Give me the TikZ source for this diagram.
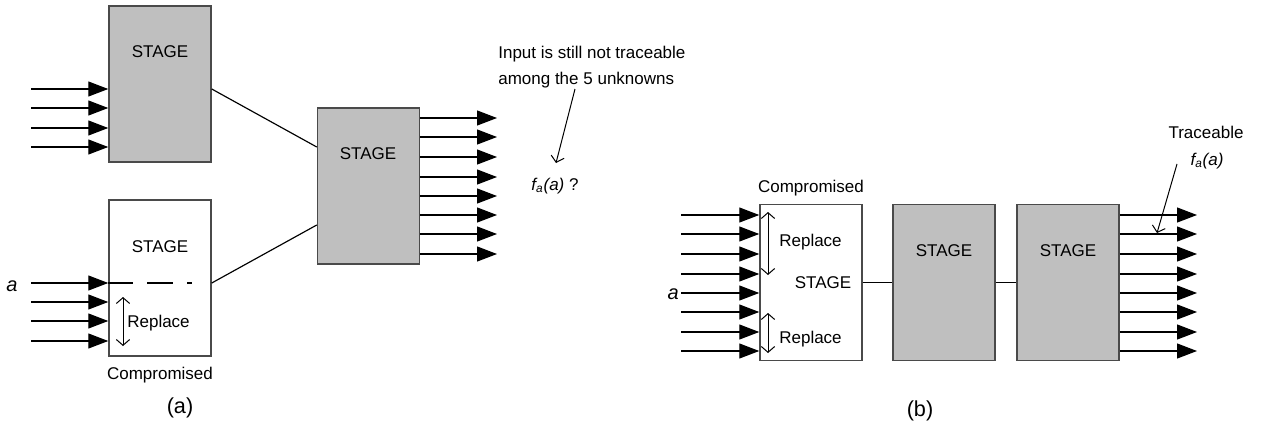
\documentclass[tikz,border=0pt]{standalone}
\usepackage{fontspec}
\setmainfont{Liberation Sans}
\usetikzlibrary{arrows.meta,calc}

\definecolor{boxgray}{HTML}{BFBFBF}
\definecolor{edgegray}{HTML}{4A4A4A}
\tikzset{
  stage/.style={draw=edgegray,line width=0.9pt,minimum width=61.2pt,minimum height=93.6pt,inner sep=0pt},
  shaded/.style={stage,fill=boxgray},
  txt/.style={inner sep=0pt,font=\fontsize{10.2}{16}\selectfont},
  panel/.style={inner sep=0pt,font=\fontsize{13}{15}\selectfont},
  var/.style={inner sep=0pt,font=\fontsize{12}{14}\selectfont\itshape},
  feed/.style={line width=0.7pt,-{Triangle[length=12pt,width=9pt]}},
  wire/.style={line width=0.7pt},
  dbl/.style={line width=0.6pt,{Straight Barb[length=3.5pt,width=8pt]}-{Straight Barb[length=3.5pt,width=8pt]}},
  pointer/.style={line width=0.6pt,-{Straight Barb[length=3.5pt,width=8pt]}}
}

\begin{document}
\begin{tikzpicture}[x=0.6pt,y=-0.6pt]
\useasboundingbox (0,0) rectangle (1267,430);
% (a)
\node[shaded] (topA) at (160,84) {};
\node[stage] (cmpA) at (160,278) {};
\node[shaded] (bigA) at (368.5,186) {};
\node[txt] (topAs) at (160,52) {STAGE};
\node[txt] (cmpAs) at (160,247) {STAGE};
\node[txt] (bigAs) at (368,154) {STAGE};
\foreach \y [count=\i] in {89,108,128,147}{
  \coordinate (inT\i) at (31,\y);
  \draw[feed] (inT\i) -- (inT\i -| topA.west);}
\foreach \y [count=\i] in {283,302,321,341}{
  \coordinate (inC\i) at (31,\y);
  \draw[feed] (inC\i) -- (inC\i -| cmpA.west);}
\foreach \y [count=\i] in {118,137,157,177,196,215,234,254}{
  \coordinate (outA\i) at (497,\y);
  \draw[feed] (outA\i -| bigA.east) -- (outA\i);}
\draw[wire,dash pattern=on 15pt off 8.4pt on 15.6pt off 8.4pt on 3pt off 20pt] (inC1 -| cmpA.west) -- (inC1 -| cmpA.east);
\draw[wire] (inT1 -| topA.east) -- ($(bigA.west)+(0,-39)$);
\draw[wire] (inC1 -| cmpA.east) -- ($(bigA.west)+(0,39)$);
\node[var] (aA) at (12,286) {a};
\coordinate (rpA1) at (123,297);
\coordinate (rpA2) at (123,346);
\draw[dbl] (rpA1) -- (rpA2);
\node[txt,anchor=west] (rpAt) at (127,323) {Replace};
\node[txt] (cmpAc) at (160,375) {Compromised};
\node[panel] (capA) at (180,408) {(a)};
\node[txt,anchor=west,align=left] (noteA) at (498,67) {Input is still not traceable\\among the 5 unknowns};
\node[txt] (faA) at (555,186) {\textit{f\textsubscript{a}(a)} ?};
\coordinate (tailA) at (575,89);
\coordinate (headA) at (556,163);
\draw[pointer] (tailA) -- (headA);
% (b)
\node[stage] (cmpB) at (811,282.5) {};
\node[shaded] (midB) at (944,282.5) {};
\node[shaded] (lastB) at (1068,282.5) {};
\node[txt] (cmpBs) at (823,283) {STAGE};
\node[txt] (midBs) at (944,251) {STAGE};
\node[txt] (lastBs) at (1068,251) {STAGE};
\draw[wire] (cmpB) -- (midB);
\draw[wire] (midB) -- (lastB);
\foreach \y [count=\i] in {215,234,254,274,293,312,332,351}{
  \coordinate (inB\i) at (681,\y);
  \draw[feed] (inB\i) -- (inB\i -| cmpB.west);
  \coordinate (outB\i) at (1197,\y);
  \draw[feed] (outB\i -| lastB.east) -- (outB\i);}
\node[var,anchor=east] (aB) at (679,294) {a};
\coordinate (rpB1) at (768,212);
\coordinate (rpB2) at (768,275);
\coordinate (rpB3) at (768,313);
\coordinate (rpB4) at (768,353);
\draw[dbl] (rpB1) -- (rpB2);
\draw[dbl] (rpB3) -- (rpB4);
\node[txt,anchor=west] (rpBt1) at (779,242) {Replace};
\node[txt,anchor=west] (rpBt2) at (779,339) {Replace};
\node[txt] (cmpBc) at (811,188) {Compromised};
\node[panel] (capB) at (920,411) {(b)};
\node[txt] (traceB) at (1206,132) {Traceable};
\node[txt] (faB) at (1207,161) {\textit{f\textsubscript{a}(a)}};
\coordinate (tailB) at (1177,164);
\coordinate (headB) at (1157,233);
\draw[pointer] (tailB) -- (headB);
\end{tikzpicture}
\end{document}
